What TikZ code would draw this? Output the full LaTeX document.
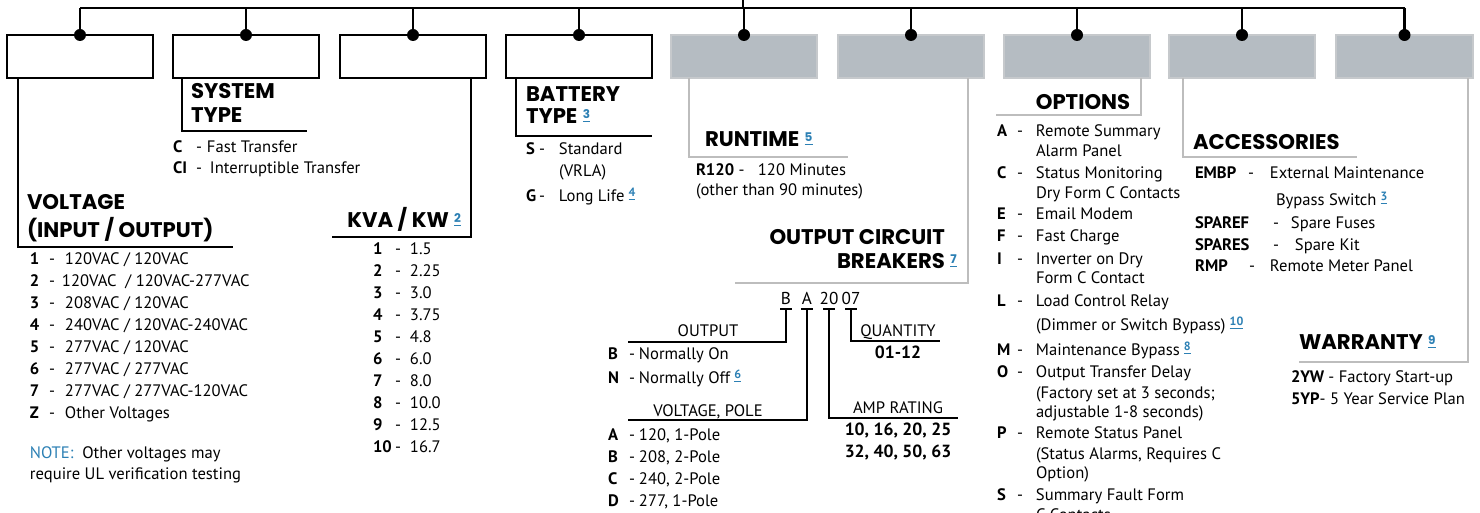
\documentclass[tikz,border=0pt]{standalone}
\usepackage{fontspec}
\setmainfont{PT Sans}
\newfontfamily\headfont{Poppins}
\usepackage{array}
\usetikzlibrary{positioning,calc}

\definecolor{fnblue}{HTML}{2C80B4}
\definecolor{boxgray}{HTML}{B5BCC2}
\definecolor{edgegray}{HTML}{C6C9CC}
\definecolor{leadgray}{HTML}{BDBDBD}

\newcolumntype{K}[1]{>{\bfseries}p{#1}}
\newcommand{\fnum}[1]{\hspace{0.25em}\raisebox{2.6pt}{\fontsize{6}{7}\selectfont\bfseries\color{fnblue}\underline{#1}}}

\begin{document}
\begin{tikzpicture}[
  x=0.5pt, y=-0.5pt,
  every node/.style={inner sep=0pt, outer sep=0pt},
  item/.style={font=\fontsize{8.3}{11}\selectfont},
  optitem/.style={font=\fontsize{8.3}{10}\selectfont},
  bitem/.style={font=\bfseries\fontsize{8.8}{11}\selectfont},
  head/.style={font=\headfont\bfseries\fontsize{10.6}{12}\selectfont},
  codebox/.style={draw, line width=1pt, fill=white,
                  minimum width=73pt, minimum height=21.5pt},
  graybox/.style={draw=edgegray, line width=0.8pt, fill=boxgray,
                  minimum width=73pt, minimum height=21.5pt},
  bus/.style={line width=1.1pt},
  lead/.style={line width=1pt},
  glead/.style={line width=1pt, leadgray},
  tick/.style={line width=1.3pt}
]
\useasboundingbox (0,0) rectangle (1480,513);
\clip (0,0) rectangle (1480,513);

%% --- Code boxes -----------------------------------------------
\node[codebox] (b1) at (80,56.5)  {};
\node[codebox] (b2) at (246,56.5) {};
\node[codebox] (b3) at (413,56.5) {};
\node[codebox] (b4) at (579,56.5) {};
\node[graybox] (b5) at (744,56.5) {};
\node[graybox] (b6) at (911,56.5) {};
\node[graybox] (b7) at (1077,56.5) {};
\node[graybox] (b8) at (1242,56.5) {};
\node[graybox, minimum width=68.5pt] (b9) at (1404.5,56.5) {};

%% --- Bus with drops -------------------------------------------
\coordinate (top)  at (743,0);
\coordinate (busL) at (80,8);
\coordinate (busR) at (1405,8);
\draw[bus] (busL) -- (busR);
\draw[bus] (top) -- (top |- busL);
\foreach \b in {b1,b2,b3,b4,b5,b6,b7,b8,b9}{
  \draw[bus] (\b.north |- busL) -- (\b.north);
  \fill (\b.north) circle (3pt);
}

%% --- Voltage --------------------------------------------------
\coordinate (vEnd) at (233,247);
\draw[lead] ($(b1.south west)+(11,0)$) |- (vEnd);
\node[head, anchor=base west] (hvolt) at (27,210)
     {\begin{tabular}[t]{@{}l@{}}VOLTAGE\\(INPUT / OUTPUT)\end{tabular}};
\node[item, anchor=base west] (vlist) at (30,265)
     {\begin{tabular}[t]{@{}K{9.5pt}@{}p{8pt}@{}l@{}}
      1 & - & 120VAC / 120VAC\\
      2 & - & \hspace{-1.5pt}120VAC\ \ / 120VAC-277VAC\\
      3 & - & 208VAC / 120VAC\\
      4 & - & 240VAC / 120VAC-240VAC\\
      5 & - & 277VAC / 120VAC\\
      6 & - & 277VAC / 277VAC\\
      7 & - & 277VAC / 277VAC-120VAC\\
      Z & - & Other Voltages
      \end{tabular}};
\node[item, anchor=base west] (note) at (30,459)
     {\begin{tabular}[t]{@{}l@{}}
      \textcolor{fnblue}{NOTE:}\ \ Other voltages may\\[-1pt]
      require UL verification testing
      \end{tabular}};

%% --- System type ----------------------------------------------
\coordinate (sEnd) at (307,131);
\draw[lead] ($(b2.south west)+(9,0)$) |- (sEnd);
\node[head, anchor=base west] (hsys) at (191,99)
     {\begin{tabular}[t]{@{}l@{}}SYSTEM\\TYPE\end{tabular}};
\node[item, anchor=base west] (slist) at (173,153)
     {\begin{tabular}[t]{@{}K{11.5pt}@{}p{5.5pt}@{}l@{}}
      C  & - & Fast Transfer\\[-0.5pt]
      CI & - & \hspace{1.5pt}Interruptible Transfer
      \end{tabular}};

%% --- KVA / KW -------------------------------------------------
\coordinate (kEnd) at (332,237);
\draw[lead] ($(b3.south east)+(-15,0)$) |- (kEnd);
\node[head, anchor=base east] (hkva) at (461,228) {KVA / KW\fnum{2}};
\node[item, anchor=base west] (klist) at (373,255)
     {\begin{tabular}[t]{@{}K{11pt}@{}p{7.5pt}@{}l@{}}
      1 & - & 1.5\\
      2 & - & 2.25\\
      3 & - & 3.0\\
      4 & - & 3.75\\
      5 & - & 4.8\\
      6 & - & 6.0\\
      7 & - & 8.0\\
      8 & - & 10.0\\
      9 & - & 12.5\\
      10 & - & 16.7
      \end{tabular}};

%% --- Battery type ---------------------------------------------
\coordinate (bEnd) at (652,136);
\draw[lead] ($(b4.south west)+(10,0)$) |- (bEnd);
\node[head, anchor=base west] (hbat) at (526,102)
     {\begin{tabular}[t]{@{}l@{}}BATTERY\\[-1pt]TYPE\fnum{3}\end{tabular}};
\node[item, anchor=base west] (blist) at (526,155)
     {\begin{tabular}[t]{@{}K{6.5pt}@{}p{10pt}@{}l@{}}
      S & - & Standard\\
        &   & (VRLA)\\[1.5pt]
      G & - & Long Life\fnum{4}
      \end{tabular}};

%% --- Runtime --------------------------------------------------
\coordinate (rEnd) at (848,157);
\draw[glead] ($(b5.south west)+(18,0)$) |- (rEnd);
\node[head, anchor=base west] (hrun) at (705,147) {RUNTIME\fnum{5}};
\node[item, anchor=base west] (rlist) at (696,176)
     {\begin{tabular}[t]{@{}l@{}}
      \textbf{R120} -\ \ \ 120 Minutes\\[-1pt]
      (other than 90 minutes)
      \end{tabular}};

%% --- Output circuit breakers ----------------------------------
\coordinate (ocEnd) at (735,283);
\draw[glead] ($(b6.south east)+(-16,0)$) |- (ocEnd);
\node[head, anchor=base east] (hocb) at (945,245)
     {\begin{tabular}[t]{@{}r@{}}OUTPUT CIRCUIT\\BREAKERS\rlap{\fnum{7}}\end{tabular}};

\node[item, font=\fontsize{8.6}{11}\selectfont, anchor=base] (cB)  at (786,305) {B};
\node[item, font=\fontsize{8.6}{11}\selectfont, anchor=base] (cA)  at (807,305) {A};
\node[item, font=\fontsize{8.6}{11}\selectfont, anchor=base] (c20) at (829,305) {20};
\node[item, font=\fontsize{8.6}{11}\selectfont, anchor=base] (c07) at (851,305) {07};
\draw[tick] ($(cB.base)+(-6,4)$)  -- ($(cB.base)+(6,4)$);
\draw[tick] ($(cA.base)+(-6,4)$)  -- ($(cA.base)+(6,4)$);
\draw[tick] ($(c20.base)+(-6,4)$) -- ($(c20.base)+(6,4)$);
\draw[tick] ($(c07.base)+(-6,4)$) -- ($(c07.base)+(6,4)$);

\coordinate (oEnd) at (628,342);
\coordinate (pEnd) at (628,420);
\coordinate (aEnd) at (958,418);
\coordinate (qEnd) at (940,341);
\draw[lead] ($(cB.base)+(0,4)$)  |- (oEnd);
\draw[lead] ($(cA.base)+(0,4)$)  |- (pEnd);
\draw[lead] ($(c20.base)+(0,4)$) |- (aEnd);
\draw[lead] ($(c07.base)+(0,4)$) |- (qEnd);

\node[item, anchor=base] (lout) at (708,337) {OUTPUT};
\node[item, anchor=base] (lpol) at (708,417) {VOLTAGE, POLE};
\node[item, anchor=base] (lamp) at (898,414) {AMP RATING};
\node[item, anchor=base] (lqty) at (898,337) {QUANTITY};

\node[item, anchor=base west] (olist) at (608,360)
     {\begin{tabular}[t]{@{}K{10.5pt}@{}p{5pt}@{}l@{}}
      B & - & Normally On\\[1pt]
      N & - & Normally Off\fnum{6}
      \end{tabular}};
\node[item, anchor=base west] (plist) at (608,441)
     {\begin{tabular}[t]{@{}K{10.5pt}@{}p{5pt}@{}l@{}}
      A & - & 120, 1-Pole\\
      B & - & 208, 2-Pole\\
      C & - & 240, 2-Pole\\
      D & - & 277, 1-Pole
      \end{tabular}};
\node[bitem, anchor=base] (amps) at (898,436)
     {\begin{tabular}[t]{@{}c@{}}10, 16, 20, 25\\32, 40, 50, 63\end{tabular}};
\node[bitem, anchor=base] (qty) at (898,359) {01-12};

%% --- Options --------------------------------------------------
\coordinate (opEnd) at (996,115);
\draw[glead] ($(b7.south east)+(-9,0)$) |- (opEnd);
\node[head, anchor=base] (hopt) at (1083,110) {OPTIONS};
\node[optitem, anchor=base west] (optlist) at (997,137)
     {\begin{tabular}[t]{@{}K{10pt}@{}p{9.5pt}@{}l@{}}
      A & - & Remote Summary\\
        &   & Alarm Panel\\[1pt]
      C & - & Status Monitoring\\
        &   & Dry Form C Contacts\\[0.5pt]
      E & - & Email Modem\\[1pt]
      F & - & Fast Charge\\[1.5pt]
      I & - & Inverter on Dry\\[-0.5pt]
        &   & Form C Contact\\[1.5pt]
      L & - & Load Control Relay\\[2pt]
        &   & (Dimmer or Switch Bypass)\fnum{10}\\[2.5pt]
      M & - & Maintenance Bypass\fnum{8}\\[1pt]
      O & - & Output Transfer Delay\\[0.5pt]
        &   & (Factory set at 3 seconds;\\[-0.5pt]
        &   & adjustable 1-8 seconds)\\[0.5pt]
      P & - & Remote Status Panel\\[0.5pt]
        &   & (Status Alarms, Requires C\\[-0.5pt]
        &   & Option)\\[1pt]
      S & - & Summary Fault Form\\
        &   & C Contacts
      \end{tabular}};

%% --- Accessories ----------------------------------------------
\coordinate (acEnd) at (1357,157);
\draw[glead] ($(b8.south west)+(14,0)$) |- (acEnd);
\node[head, anchor=base west] (hacc) at (1193,150) {ACCESSORIES};
\node[item, anchor=base west] (alist) at (1195,179)
     {\begin{tabular}[t]{@{}l@{}}
      \makebox[26.5pt][l]{\textbf{EMBP}}-\hspace{8pt}External Maintenance\\[2.5pt]
      \hspace{40.5pt}Bypass Switch\fnum{3}\\[0.5pt]
      \makebox[39pt][l]{\textbf{SPAREF}}-\hspace{6pt}Spare Fuses\\
      \makebox[39pt][l]{\textbf{SPARES}}-\hspace{8pt}Spare Kit\\[-0.5pt]
      \makebox[27pt][l]{\textbf{RMP}}-\hspace{7.5pt}Remote Meter Panel
      \end{tabular}};

%% --- Warranty -------------------------------------------------
\coordinate (wEnd) at (1299,362);
\draw[glead] ($(b9.south east)+(-5,0)$) |- (wEnd);
\node[head, anchor=base west] (hwar) at (1299,350) {WARRANTY\fnum{9}};
\node[item, anchor=base west] (wlist) at (1291,383)
     {\begin{tabular}[t]{@{}l@{}}
      \textbf{2YW} - Factory Start-up\\
      \textbf{5YP}- 5 Year Service Plan
      \end{tabular}};

\end{tikzpicture}
\end{document}
